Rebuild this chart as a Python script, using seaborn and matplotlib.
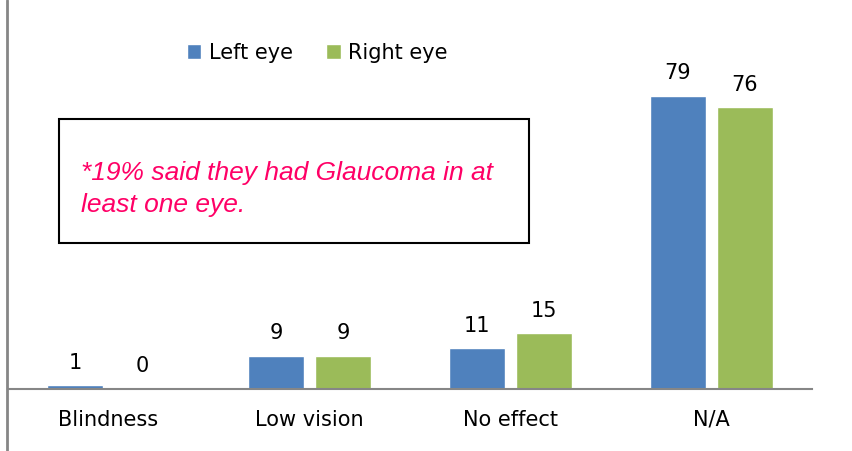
import numpy as np
import pandas as pd
import seaborn as sns
import matplotlib.pyplot as plt
from matplotlib.lines import Line2D

categories = ["Blindness", "Low vision", "No effect", "N/A"]
left_eye = [1, 9, 11, 79]
right_eye = [0, 9, 15, 76]
series = ["Left eye", "Right eye"]
note = "*19% said they had Glaucoma in at\nleast one eye."

df = pd.DataFrame({"category": categories * 2,
                   "value": left_eye + right_eye,
                   "eye": [series[0]] * len(categories) + [series[1]] * len(categories)})

sns.set_style("white")
plt.rcParams["font.family"] = ["DejaVu Sans"]
plt.rcParams["text.color"] = "black"
plt.rcParams["xtick.color"] = "black"

fig = plt.figure(figsize=(8.52, 4.51), dpi=100)
ax = fig.add_axes([8 / 852, 1 - 389 / 451, 804 / 852, 371 / 451])

sns.barplot(data=df, x="category", y="value", hue="eye", order=categories,
            palette=["#4F81BD", "#9BBB59"], width=0.667, gap=0.17,
            saturation=1, ax=ax, legend=True)

for cont in ax.containers:
    ax.bar_label(cont, padding=9, fontsize=15, color="black")

ax.set_ylim(0, 100)
ax.set_xlim(-0.5, 3.5)
ax.set_xlabel("")
ax.set_ylabel("")
ax.set_yticks([])
ax.tick_params(axis="x", length=0, pad=15, labelsize=15, labelcolor="black")
for s in ["top", "right", "left"]:
    ax.spines[s].set_visible(False)
ax.spines["bottom"].set_color("#868686")
ax.spines["bottom"].set_linewidth(1.5)

ax.legend(loc="center", bbox_to_anchor=(317 / 852, 1 - 53 / 451),
          bbox_transform=fig.transFigure, ncol=2, frameon=False,
          fontsize=15, handlelength=0.7, handleheight=0.7,
          handletextpad=0.35, columnspacing=1.6, labelcolor="black")

# chart border on the left
fig.add_artist(Line2D([7 / 852, 7 / 852], [0, 1], transform=fig.transFigure,
                      color="#868686", linewidth=2))

# note box
fig.text(81 / 852, 1 - 189 / 451, note, color="#FF0066", style="italic",
         family=["Liberation Sans", "DejaVu Sans"], fontsize=19,
         va="center", ha="left", linespacing=1.4)
fig.add_artist(plt.Rectangle((59 / 852, 1 - 243 / 451), 470 / 852, 124 / 451,
                             transform=fig.transFigure, fill=False,
                             edgecolor="black", linewidth=1.5))

fig.savefig("out.png", dpi=100)
